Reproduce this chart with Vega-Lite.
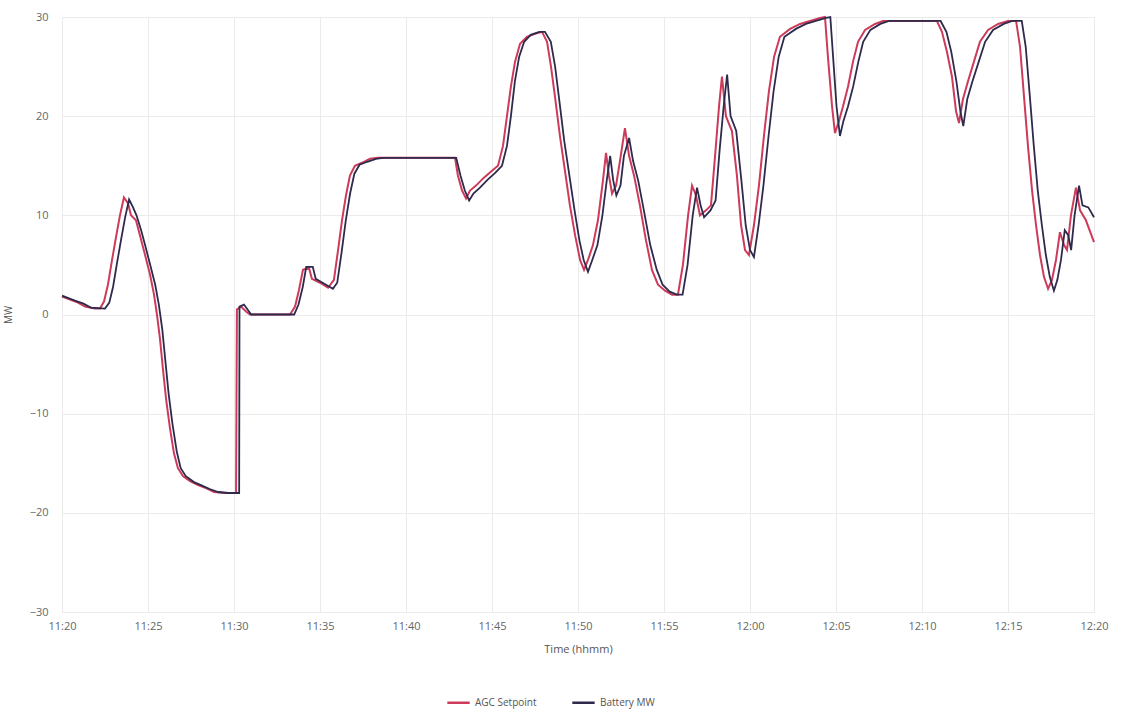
{
  "$schema": "https://vega.github.io/schema/vega-lite/v6.json",
  "autosize": {"type": "none"},
  "width": 1032,
  "height": 595,
  "padding": {"left": 62, "top": 17, "right": 27, "bottom": 101},
  "background": "white",
  "config": {
    "view": {"stroke": null},
    "font": "Open Sans",
    "axis": {"labelColor": "#666", "titleColor": "#555", "labelFontSize": 11, "titleFontSize": 11, "titleFontWeight": "normal", "gridColor": "#ebebeb", "ticks": false, "domain": false}
  },
  "datasets": {
    "agc": [
      {"m":0,"v":1.8},{"m":0.47,"v":1.5},{"m":0.93,"v":1.2},{"m":1.34,"v":0.8},{"m":1.92,"v":0.6},{"m":2.21,"v":0.6},{"m":2.44,"v":1.3},{"m":2.67,"v":3},{"m":2.91,"v":5.5},{"m":3.14,"v":7.8},{"m":3.37,"v":10},{"m":3.6,"v":11.8},{"m":3.84,"v":11.2},{"m":4.01,"v":10},{"m":4.3,"v":9.5},{"m":4.53,"v":8},{"m":4.83,"v":6},{"m":5.12,"v":4},{"m":5.35,"v":2},{"m":5.52,"v":0},{"m":5.7,"v":-2.5},{"m":5.87,"v":-5.5},{"m":6.05,"v":-8.5},{"m":6.28,"v":-11.5},{"m":6.51,"v":-14},{"m":6.74,"v":-15.5},{"m":7.03,"v":-16.3},{"m":7.44,"v":-16.8},{"m":7.91,"v":-17.2},{"m":8.37,"v":-17.5},{"m":8.84,"v":-17.9},{"m":9.48,"v":-18},{"m":10.12,"v":-18},{"m":10.17,"v":0.5},{"m":10.41,"v":0.8},{"m":10.7,"v":0.3},{"m":10.93,"v":0},{"m":13.26,"v":0},{"m":13.55,"v":0.8},{"m":13.78,"v":2.5},{"m":14.01,"v":4.5},{"m":14.36,"v":4.7},{"m":14.53,"v":3.6},{"m":15,"v":3.2},{"m":15.47,"v":2.7},{"m":15.81,"v":3.5},{"m":16.05,"v":6.5},{"m":16.28,"v":9.5},{"m":16.51,"v":12},{"m":16.74,"v":14},{"m":17.03,"v":15},{"m":17.44,"v":15.3},{"m":17.91,"v":15.7},{"m":18.37,"v":15.8},{"m":22.85,"v":15.8},{"m":23.02,"v":14},{"m":23.26,"v":12.5},{"m":23.49,"v":11.7},{"m":23.72,"v":12.5},{"m":24.07,"v":13},{"m":24.53,"v":13.8},{"m":25,"v":14.5},{"m":25.35,"v":15},{"m":25.64,"v":17},{"m":25.87,"v":20},{"m":26.1,"v":23},{"m":26.34,"v":25.5},{"m":26.63,"v":27.3},{"m":27.03,"v":28},{"m":27.5,"v":28.3},{"m":27.91,"v":28.5},{"m":28.2,"v":27.5},{"m":28.43,"v":25},{"m":28.66,"v":22},{"m":28.95,"v":18},{"m":29.24,"v":14.5},{"m":29.53,"v":11},{"m":29.83,"v":8},{"m":30.12,"v":5.5},{"m":30.35,"v":4.5},{"m":30.58,"v":5.5},{"m":30.87,"v":7},{"m":31.16,"v":9.5},{"m":31.45,"v":13.5},{"m":31.63,"v":16.3},{"m":31.8,"v":14},{"m":31.98,"v":12.2},{"m":32.21,"v":13},{"m":32.44,"v":15.5},{"m":32.73,"v":18.8},{"m":32.97,"v":16},{"m":33.26,"v":14},{"m":33.6,"v":11},{"m":33.95,"v":7.5},{"m":34.3,"v":4.5},{"m":34.65,"v":3},{"m":35.06,"v":2.4},{"m":35.47,"v":2},{"m":35.81,"v":2},{"m":36.1,"v":5},{"m":36.4,"v":10},{"m":36.63,"v":13},{"m":36.86,"v":12},{"m":37.09,"v":10},{"m":37.44,"v":10.5},{"m":37.73,"v":11},{"m":37.97,"v":16},{"m":38.2,"v":21},{"m":38.37,"v":24},{"m":38.6,"v":20},{"m":38.95,"v":18.5},{"m":39.24,"v":14},{"m":39.48,"v":9},{"m":39.71,"v":6.5},{"m":39.94,"v":6},{"m":40.23,"v":9},{"m":40.52,"v":13},{"m":40.81,"v":18},{"m":41.1,"v":22.5},{"m":41.4,"v":26},{"m":41.74,"v":28},{"m":42.33,"v":28.8},{"m":42.91,"v":29.3},{"m":43.49,"v":29.6},{"m":44.07,"v":29.9},{"m":44.36,"v":30},{"m":44.53,"v":26},{"m":44.77,"v":21},{"m":44.94,"v":18.3},{"m":45.17,"v":19.5},{"m":45.41,"v":21},{"m":45.7,"v":23},{"m":45.99,"v":25.5},{"m":46.28,"v":27.5},{"m":46.69,"v":28.7},{"m":47.27,"v":29.3},{"m":47.73,"v":29.6},{"m":50.87,"v":29.6},{"m":51.16,"v":28.5},{"m":51.45,"v":26.5},{"m":51.74,"v":24},{"m":51.98,"v":20.5},{"m":52.15,"v":19.3},{"m":52.38,"v":21.7},{"m":52.67,"v":23.5},{"m":53.02,"v":25.5},{"m":53.37,"v":27.5},{"m":53.84,"v":28.7},{"m":54.42,"v":29.3},{"m":55,"v":29.6},{"m":55.47,"v":29.6},{"m":55.7,"v":27},{"m":55.93,"v":22},{"m":56.16,"v":17},{"m":56.4,"v":12.5},{"m":56.63,"v":9},{"m":56.86,"v":6},{"m":57.09,"v":3.8},{"m":57.33,"v":2.6},{"m":57.56,"v":3.5},{"m":57.79,"v":5.5},{"m":58.02,"v":8.3},{"m":58.26,"v":7},{"m":58.43,"v":6.5},{"m":58.66,"v":10},{"m":58.95,"v":12.8},{"m":59.19,"v":10.5},{"m":59.53,"v":9.5},{"m":60,"v":7.3}
    ],
    "battery": [
      {"m":0,"v":1.9},{"m":0.75,"v":1.4},{"m":1.25,"v":1.1},{"m":1.67,"v":0.7},{"m":2.5,"v":0.6},{"m":2.75,"v":1.2},{"m":2.97,"v":2.8},{"m":3.2,"v":5.2},{"m":3.43,"v":7.5},{"m":3.67,"v":9.8},{"m":3.9,"v":11.6},{"m":4.13,"v":10.8},{"m":4.33,"v":10},{"m":4.6,"v":8.5},{"m":4.83,"v":7},{"m":5.13,"v":5},{"m":5.42,"v":3},{"m":5.63,"v":1},{"m":5.83,"v":-1.5},{"m":6,"v":-4.5},{"m":6.2,"v":-8},{"m":6.42,"v":-11},{"m":6.67,"v":-13.8},{"m":6.9,"v":-15.5},{"m":7.2,"v":-16.3},{"m":7.67,"v":-16.9},{"m":8.08,"v":-17.2},{"m":8.58,"v":-17.6},{"m":9.08,"v":-17.9},{"m":9.67,"v":-18},{"m":10.3,"v":-18},{"m":10.32,"v":0.8},{"m":10.58,"v":1},{"m":10.83,"v":0.4},{"m":11,"v":0},{"m":13.5,"v":0},{"m":13.75,"v":1},{"m":14,"v":2.8},{"m":14.2,"v":4.8},{"m":14.58,"v":4.8},{"m":14.75,"v":3.6},{"m":15.25,"v":3.1},{"m":15.75,"v":2.6},{"m":16,"v":3.2},{"m":16.25,"v":6.2},{"m":16.5,"v":9.5},{"m":16.75,"v":12.2},{"m":17,"v":14.2},{"m":17.3,"v":15.1},{"m":17.75,"v":15.4},{"m":18.25,"v":15.7},{"m":18.67,"v":15.8},{"m":22.92,"v":15.8},{"m":23.17,"v":14},{"m":23.42,"v":12.5},{"m":23.67,"v":11.5},{"m":23.92,"v":12.2},{"m":24.3,"v":12.8},{"m":24.75,"v":13.6},{"m":25.2,"v":14.3},{"m":25.58,"v":15},{"m":25.87,"v":17},{"m":26.1,"v":20},{"m":26.33,"v":23.5},{"m":26.58,"v":26},{"m":26.87,"v":27.5},{"m":27.25,"v":28.2},{"m":27.75,"v":28.5},{"m":28.08,"v":28.5},{"m":28.42,"v":27.5},{"m":28.67,"v":25},{"m":28.92,"v":21.5},{"m":29.2,"v":17.5},{"m":29.5,"v":14},{"m":29.8,"v":10.5},{"m":30.08,"v":7.5},{"m":30.33,"v":5.5},{"m":30.58,"v":4.3},{"m":30.83,"v":5.5},{"m":31.13,"v":7},{"m":31.42,"v":10},{"m":31.67,"v":13.5},{"m":31.87,"v":16},{"m":32.05,"v":13.5},{"m":32.23,"v":12},{"m":32.47,"v":13},{"m":32.67,"v":16},{"m":32.97,"v":17.8},{"m":33.2,"v":15.5},{"m":33.5,"v":13.5},{"m":33.83,"v":10.5},{"m":34.2,"v":7},{"m":34.58,"v":4.5},{"m":34.92,"v":3},{"m":35.33,"v":2.3},{"m":35.75,"v":2},{"m":36.08,"v":2},{"m":36.37,"v":5},{"m":36.67,"v":10},{"m":36.92,"v":12.8},{"m":37.13,"v":11},{"m":37.33,"v":9.8},{"m":37.7,"v":10.5},{"m":38,"v":11.5},{"m":38.23,"v":16.5},{"m":38.47,"v":21},{"m":38.67,"v":24.2},{"m":38.87,"v":20},{"m":39.2,"v":18.5},{"m":39.5,"v":13.5},{"m":39.75,"v":9},{"m":40,"v":6.5},{"m":40.23,"v":5.8},{"m":40.5,"v":9},{"m":40.78,"v":13},{"m":41.08,"v":18},{"m":41.37,"v":22.5},{"m":41.67,"v":26},{"m":42,"v":28},{"m":42.67,"v":28.8},{"m":43.25,"v":29.3},{"m":43.83,"v":29.6},{"m":44.42,"v":29.9},{"m":44.67,"v":30},{"m":44.83,"v":26},{"m":45.03,"v":21},{"m":45.23,"v":18},{"m":45.43,"v":19.5},{"m":45.7,"v":21},{"m":46,"v":23},{"m":46.3,"v":25.5},{"m":46.58,"v":27.5},{"m":47,"v":28.7},{"m":47.58,"v":29.3},{"m":48.08,"v":29.6},{"m":51.08,"v":29.6},{"m":51.42,"v":28.5},{"m":51.7,"v":26.5},{"m":52,"v":23.5},{"m":52.23,"v":20.5},{"m":52.4,"v":19},{"m":52.63,"v":21.7},{"m":52.93,"v":23.5},{"m":53.3,"v":25.5},{"m":53.67,"v":27.5},{"m":54.13,"v":28.7},{"m":54.75,"v":29.3},{"m":55.25,"v":29.6},{"m":55.8,"v":29.6},{"m":56.03,"v":27},{"m":56.27,"v":22},{"m":56.5,"v":17},{"m":56.73,"v":12.5},{"m":56.97,"v":9},{"m":57.2,"v":6},{"m":57.43,"v":3.8},{"m":57.67,"v":2.4},{"m":57.87,"v":3.5},{"m":58.08,"v":5.5},{"m":58.3,"v":8.5},{"m":58.5,"v":8},{"m":58.67,"v":6.5},{"m":58.87,"v":10},{"m":59.13,"v":13},{"m":59.33,"v":11},{"m":59.67,"v":10.8},{"m":60,"v":9.8}
    ]
  },
  "layer": [
    {
      "data": {"name": "agc"},
      "transform": [{"calculate": "'AGC Setpoint'", "as": "s"}],
      "mark": {"type": "line", "strokeWidth": 2, "interpolate": "linear"},
      "encoding": {
        "x": {"field": "m", "type": "quantitative",
          "scale": {"domain": [0, 60], "nice": false},
          "axis": {"values": [0, 5, 10, 15, 20, 25, 30, 35, 40, 45, 50, 55, 60], "labelExpr": "datum.value < 40 ? '11:' + (20 + datum.value) : '12:' + (datum.value < 50 ? '0' : '') + (datum.value - 40)", "title": "Time (hhmm)", "labelPadding": 8, "titlePadding": 12, "labelFlush": false}},
        "y": {"field": "v", "type": "quantitative",
          "scale": {"domain": [-30, 30]},
          "axis": {"values": [-30, -20, -10, 0, 10, 20, 30], "title": "MW", "titleFontSize": 10, "labelPadding": 14, "titlePadding": 16}},
        "color": {"field": "s", "type": "nominal",
          "scale": {"domain": ["AGC Setpoint", "Battery MW"], "range": ["#cc3b5a", "#2d2a4c"]},
          "legend": {"title": null, "orient": "none", "legendX": 384, "legendY": 673, "direction": "horizontal", "symbolType": "stroke", "symbolSize": 500, "symbolStrokeWidth": 2.5, "labelFontSize": 10, "labelColor": "#555", "columnPadding": 30}}
      }
    },
    {
      "data": {"name": "battery"},
      "transform": [{"calculate": "'Battery MW'", "as": "s"}],
      "mark": {"type": "line", "strokeWidth": 1.8, "interpolate": "linear"},
      "encoding": {
        "x": {"field": "m", "type": "quantitative"},
        "y": {"field": "v", "type": "quantitative"},
        "color": {"field": "s", "type": "nominal"}
      }
    }
  ]
}
